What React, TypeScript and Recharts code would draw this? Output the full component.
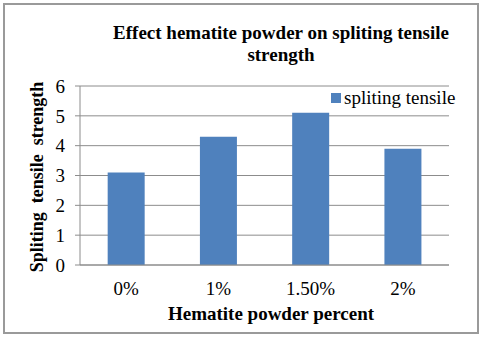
import * as React from "react";
import { BarChart, Bar, XAxis, YAxis, CartesianGrid } from "recharts";

const categories = ["0%", "1%", "1.50%", "2%"];
const splitingTensile = [3.1, 4.3, 5.1, 3.9];
const yTicks = [0, 1, 2, 3, 4, 5, 6];

const seriesName = "spliting tensile";
const chartTitle = ["Effect hematite powder on spliting tensile", "strength"];
const xTitle = "Hematite powder percent";
const yTitle = "Spliting  tensile  strength";

const data = categories.map((c, i) => ({ name: c, value: splitingTensile[i] }));

const serif = "Liberation Serif";
const barColor = "#4F81BD";
const gridColor = "#8c8c8c";

export default function App() {
  return (
    <div
      style={{
        position: "absolute",
        left: 0,
        top: 0,
        width: 480,
        height: 339,
        background: "#fff",
        fontFamily: serif,
      }}
    >
      <div
        style={{
          position: "absolute",
          left: 3,
          top: 3,
          width: 472,
          height: 327,
          border: "2px solid #9a9a9a",
        }}
      />
      <BarChart
        width={480}
        height={339}
        data={data}
        margin={{ top: 86, right: 31, left: 0, bottom: 0 }}
        barCategoryGap="30%"
        style={{ fontFamily: serif }}
      >
        <CartesianGrid vertical={false} stroke={gridColor} strokeWidth={1} />
        <XAxis
          dataKey="name"
          height={74}
          tickLine={false}
          tickSize={0}
          tickMargin={17}
          axisLine={{ stroke: gridColor }}
          tick={{ fill: "#000", fontSize: 19, fontFamily: serif }}
        />
        <YAxis
          width={80}
          domain={[0, 6]}
          ticks={yTicks}
          interval={0}
          tickSize={5}
          tickMargin={10}
          axisLine={{ stroke: gridColor }}
          tickLine={{ stroke: gridColor }}
          tick={{ fill: "#000", fontSize: 19, fontFamily: serif }}
        />
        <Bar dataKey="value" name={seriesName} fill={barColor} isAnimationActive={false} />
      </BarChart>
      <div
        style={{
          position: "absolute",
          left: 331,
          top: 88,
          display: "flex",
          alignItems: "center",
          fontSize: 19,
          lineHeight: "20px",
          color: "#000",
          whiteSpace: "nowrap",
        }}
      >
        <span style={{ display: "inline-block", width: 10, height: 10, background: barColor, marginRight: 3 }} />
        <span>{seriesName}</span>
      </div>
      <svg
        width={480}
        height={339}
        style={{ position: "absolute", left: 0, top: 0, pointerEvents: "none" }}
      >
        <g fontFamily={serif} fontWeight="bold" fill="#000">
          <text x={281} y={39} fontSize={19} textAnchor="middle">
            {chartTitle[0]}
          </text>
          <text x={281} y={61} fontSize={19} textAnchor="middle">
            {chartTitle[1]}
          </text>
          <text x={271} y={320} fontSize={19} textAnchor="middle" style={{ whiteSpace: "pre" }}>
            {xTitle}
          </text>
          <text
            x={0}
            y={0}
            fontSize={18}
            textAnchor="middle"
            style={{ whiteSpace: "pre" }}
            transform="translate(43 177) rotate(-90)"
          >
            {yTitle}
          </text>
        </g>
      </svg>
    </div>
  );
}
